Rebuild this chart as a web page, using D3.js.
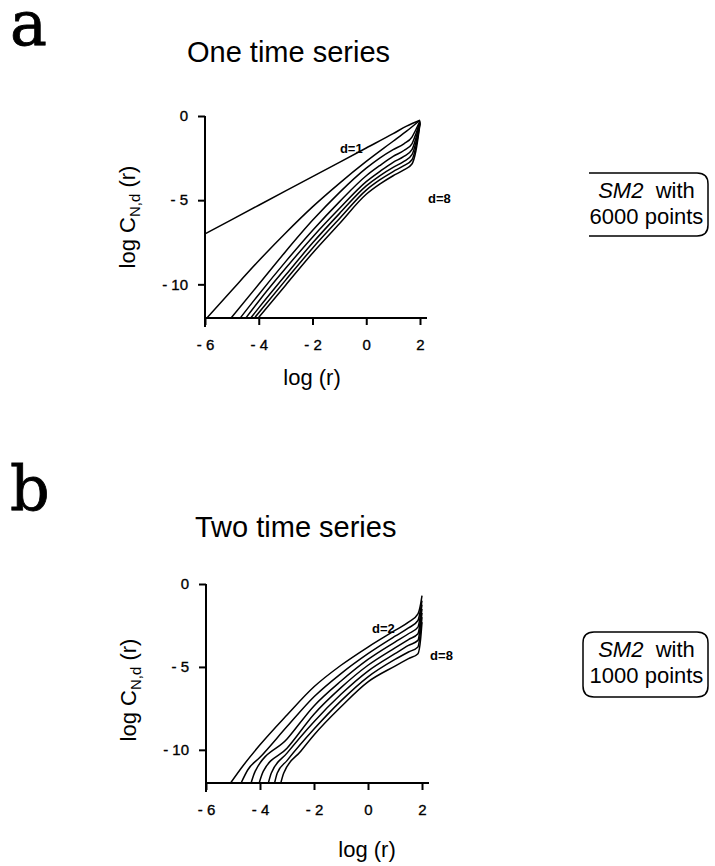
<!DOCTYPE html>
<html>
<head>
<meta charset="utf-8">
<script src="https://cdn.jsdelivr.net/npm/d3@7"></script>
<style>
  body { margin: 0; background: #fff; }
  text { font-family: "Liberation Sans", Arial, sans-serif; fill: #000; }
</style>
</head>
<body>
<svg id="fig" width="715" height="866"></svg>
<script>
// tick values shared by both panels
const xTicks = [-6, -4, -2, 0, 2];
const yTicks = [0, -5, -10];

// panel a: one time series, embedding dimensions d = 1..8  ([log r, log C])
const oneD1 = [[-6, -7], [-4, -5.3], [-2, -3.6], [0, -1.9], [1, -1.05], [1.5, -0.6], [2, -0.25]];
const oneD2 = [[-5.93, -12], [-5, -10.35], [-4, -8.6], [-3, -6.95], [-2, -5.4], [-1, -4.0], [0, -2.7], [1, -1.5], [1.5, -0.9], [2, -0.25]];
const oneD3 = [[-5.03, -12], [-4, -10.0], [-3, -8.05], [-2, -6.2], [-1, -4.55], [0, -3.1], [0.5, -2.5], [1, -2.0], [1.4, -1.65], [1.7, -1.25], [1.85, -0.8], [2, -0.3]];
const oneD4 = [[-4.69, -12], [-4, -10.6], [-3, -8.65], [-2, -6.8], [-1, -5.1], [0, -3.55], [0.5, -2.95], [1, -2.4], [1.4, -2.05], [1.7, -1.65], [1.85, -1.05], [2, -0.33]];
const oneD5 = [[-4.48, -12], [-4, -11.0], [-3, -9.05], [-2, -7.2], [-1, -5.5], [0, -3.9], [0.5, -3.3], [1, -2.75], [1.4, -2.4], [1.7, -2.0], [1.85, -1.3], [2, -0.36]];
const oneD6 = [[-4.3, -12], [-4, -11.4], [-3, -9.45], [-2, -7.55], [-1, -5.8], [0, -4.15], [0.5, -3.55], [1, -3.05], [1.4, -2.7], [1.7, -2.3], [1.85, -1.55], [2, -0.4]];
const oneD7 = [[-4.16, -12], [-3, -9.75], [-2, -7.85], [-1, -6.1], [0, -4.4], [0.5, -3.8], [1, -3.3], [1.4, -2.95], [1.7, -2.6], [1.85, -1.8], [2, -0.43]];
const oneD8 = [[-4.02, -12], [-3, -10.05], [-2, -8.15], [-1, -6.4], [0, -4.65], [0.5, -4.05], [1, -3.55], [1.4, -3.2], [1.7, -2.85], [1.85, -2.05], [2, -0.46]];

// panel b: two time series, d = 2..8
const twoD2 = [[-5.09, -12], [-4.6, -10.9], [-4, -9.7], [-3, -7.9], [-2, -6.2], [-1, -4.9], [0, -3.8], [1, -2.8], [1.5, -2.3], [1.85, -1.8], [1.95, -1.2], [2, -0.7]];
const twoD3 = [[-4.7, -12], [-4.45, -11.2], [-4, -10.45], [-3, -8.6], [-2, -6.8], [-1, -5.4], [0, -4.2], [1, -3.15], [1.5, -2.65], [1.85, -2.2], [1.95, -1.5], [2, -1.0]];
const twoD4 = [[-4.33, -12], [-4.18, -11.3], [-3, -9.35], [-2, -7.35], [-1, -5.85], [0, -4.55], [1, -3.5], [1.5, -3.0], [1.85, -2.6], [1.95, -1.8], [2, -1.25]];
const twoD5 = [[-4.03, -12], [-3.88, -11.3], [-3, -9.9], [-2, -7.85], [-1, -6.25], [0, -4.9], [1, -3.85], [1.5, -3.35], [1.85, -3.0], [1.95, -2.1], [2, -1.5]];
const twoD6 = [[-3.69, -12], [-3.58, -11.4], [-3, -10.2], [-2, -8.3], [-1, -6.65], [0, -5.25], [1, -4.2], [1.5, -3.7], [1.85, -3.4], [1.95, -2.4], [2, -1.75]];
const twoD7 = [[-3.46, -12], [-3.36, -11.4], [-3, -10.65], [-2, -8.75], [-1, -7.05], [0, -5.6], [1, -4.55], [1.5, -4.1], [1.85, -3.8], [1.95, -2.8], [2, -2.0]];
const twoD8 = [[-3.23, -12], [-3.12, -11.4], [-2.5, -10.1], [-2, -9.1], [-1, -7.4], [0, -5.9], [1, -4.95], [1.5, -4.5], [1.85, -4.2], [1.95, -3.3], [2, -2.3]];

const svg = d3.select('#fig');
const fmt = (d) => (d < 0 ? '- ' + Math.abs(d) : String(d));

function drawPanel(p) {
  const x = d3.scaleLinear().domain([-6, 2]).range([p.left, p.right]);
  const y = d3.scaleLinear().domain([0, -12]).range([p.top, p.bottom]);
  const g = svg.append('g');

  g.append('text').attr('x', 10).attr('y', p.letterY)
    .style('font-family', '"DejaVu Serif", "Liberation Serif", serif')
    .style('font-size', '62px').style('stroke', '#000').style('stroke-width', 0.8)
    .text(p.letter);

  g.append('text').attr('x', p.titleX).attr('y', p.titleY)
    .style('font-size', '29px').text(p.title);

  // axes
  const yAxis = d3.axisLeft(y).tickValues(yTicks).tickFormat(fmt).tickSize(7).tickSizeOuter(0).tickPadding(10);
  const xAxis = d3.axisBottom(x).tickValues(xTicks).tickFormat(fmt).tickSize(7).tickSizeOuter(0).tickPadding(14);
  const ya = g.append('g').attr('transform', `translate(${p.left},0)`).call(yAxis);
  const xa = g.append('g').attr('transform', `translate(0,${p.bottom})`).call(xAxis);
  [ya, xa].forEach((a) => {
    a.selectAll('path,line').attr('stroke', '#000').attr('stroke-width', 2);
    a.selectAll('text').style('font-size', '15px')
      .style('font-family', '"Liberation Sans", Arial, sans-serif')
      .style('stroke', '#000').style('stroke-width', 0.35);
  });
  ya.select('.domain').attr('d', `M0,${p.top}V${p.bottom + 9}`);
  xa.select('.domain').attr('d', `M${p.left},0H${p.right + 7}`);

  // curves
  const line = d3.line().x((d) => x(d[0])).y((d) => y(d[1])).curve(d3.curveMonotoneX);
  g.selectAll('.curve').data(p.curves).enter().append('path')
    .attr('class', 'curve').attr('d', line)
    .attr('fill', 'none').attr('stroke', '#000').attr('stroke-width', 1.5);

  p.labels.forEach((l) => {
    g.append('text').attr('x', x(l.x)).attr('y', y(l.y))
      .style('font-size', '13px').style('font-weight', 'bold').text(l.t);
  });

  // axis titles
  const yl = g.append('text').attr('transform', `translate(${p.left - 70},${p.yLabelY}) rotate(-90)`)
    .attr('text-anchor', 'middle').style('font-size', '22px');
  yl.append('tspan').text('log C');
  yl.append('tspan').attr('dy', 5).style('font-size', '15px').text('N,d');
  yl.append('tspan').attr('dy', -5).text(' (r)');

  g.append('text').attr('x', p.xLabelX).attr('y', p.xLabelY)
    .attr('text-anchor', 'middle').style('font-size', '22px').text('log (r)');

  // legend box
  const b = p.box;
  const r = 11;
  const x0 = b.x0 + (b.open ? 6 : r);
  let path = `M${x0},${b.y0}H${b.x1 - r}Q${b.x1},${b.y0} ${b.x1},${b.y0 + r}` +
    `V${b.y1 - r}Q${b.x1},${b.y1} ${b.x1 - r},${b.y1}H${x0}`;
  if (!b.open) path += `Q${b.x0},${b.y1} ${b.x0},${b.y1 - r}V${b.y0 + r}Q${b.x0},${b.y0} ${x0},${b.y0}`;
  g.append('path').attr('d', path).attr('fill', 'none').attr('stroke', '#000').attr('stroke-width', 1.5);

  const lx = (b.x0 + b.x1) / 2 + 1;
  const t1 = g.append('text').attr('x', lx).attr('y', b.t1).attr('text-anchor', 'middle').style('font-size', '22px');
  t1.append('tspan').style('font-style', 'italic').text('SM2');
  t1.append('tspan').text('\u00a0 with');
  g.append('text').attr('x', lx).attr('y', b.t2).attr('text-anchor', 'middle')
    .style('font-size', '22px').text(p.points);
}

drawPanel({
  letter: 'a', letterY: 45, title: 'One time series', titleX: 187, titleY: 62,
  left: 205, right: 420, top: 116, bottom: 318, yLabelY: 217, xLabelX: 312, xLabelY: 385,
  curves: [oneD1, oneD2, oneD3, oneD4, oneD5, oneD6, oneD7, oneD8],
  labels: [{ x: -0.98, y: -2.2, t: 'd=1' }, { x: 2.3, y: -5.17, t: 'd=8' }],
  box: { x0: 583, x1: 708, y0: 173, y1: 236, t1: 198, t2: 224, open: true },
  points: '6000 points',
});

drawPanel({
  letter: 'b', letterY: 510, title: 'Two time series', titleX: 195, titleY: 537,
  left: 206, right: 422, top: 584, bottom: 783, yLabelY: 690, xLabelX: 367, xLabelY: 857,
  curves: [twoD2, twoD3, twoD4, twoD5, twoD6, twoD7, twoD8],
  labels: [{ x: 0.15, y: -2.95, t: 'd=2' }, { x: 2.3, y: -4.58, t: 'd=8' }],
  box: { x0: 583, x1: 708, y0: 632, y1: 697, t1: 657, t2: 683, open: false },
  points: '1000 points',
});
</script>
</body>
</html>
